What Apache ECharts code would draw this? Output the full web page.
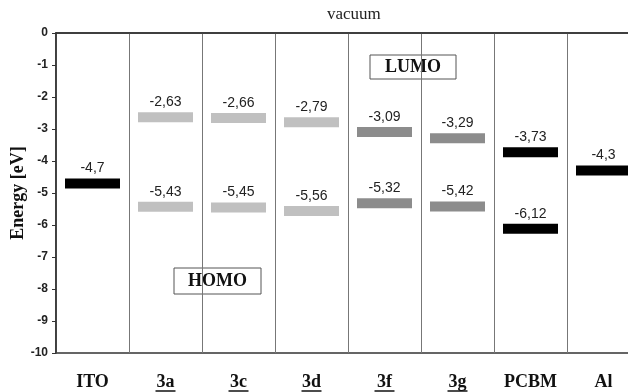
<!DOCTYPE html>
<html>
<head>
<meta charset="utf-8">
<script src="https://cdn.jsdelivr.net/npm/echarts@6/dist/echarts.min.js"></script>
<style>
  html, body { margin: 0; padding: 0; background: #fff; }
  #chart { width: 628px; height: 392px; }
</style>
</head>
<body>
<div id="chart"></div>
<script>
// Energy levels (eV) of electrodes, donor compounds and PCBM
const categories = ['ITO', '3a', '3c', '3d', '3f', '3g', 'PCBM', 'Al'];
const underlined = ['3a', '3c', '3d', '3f', '3g'];
const lumo = [null, -2.63, -2.66, -2.79, -3.09, -3.29, -3.73, null];
const homo = [null, -5.43, -5.45, -5.56, -5.32, -5.42, -6.12, null];
const workFunction = [-4.7, null, null, null, null, null, null, -4.3];
const levelColors = ['#000000', '#c0c0c0', '#c0c0c0', '#c0c0c0', '#8c8c8c', '#8c8c8c', '#000000', '#000000'];

const sans = '"Liberation Sans", Arial, sans-serif';
const serif = '"Liberation Serif", "Times New Roman", serif';

function levelSeries(name, values) {
  return {
    type: 'scatter',
    name: name,
    symbol: 'rect',
    symbolSize: [55, 10],
    z: 3,
    silent: true,
    data: values
      .map((v, i) => (v == null ? null : { value: [i, v], itemStyle: { color: levelColors[i], opacity: 1 } }))
      .filter(Boolean),
    label: {
      show: true,
      position: 'top',
      distance: 3,
      formatter: p => String(p.value[1]).replace('.', ','),
      color: '#222',
      fontSize: 14,
      fontFamily: sans
    }
  };
}

const chart = echarts.init(document.getElementById('chart'), null, { renderer: 'canvas' });

chart.setOption({
  animation: false,
  backgroundColor: '#ffffff',
  grid: {
    left: 56, top: 33, bottom: 39, right: -12,
    outerBoundsMode: 'none',
    containLabel: false,
    show: true, borderColor: '#333', borderWidth: 1.5, backgroundColor: 'transparent'
  },
  xAxis: {
    type: 'category',
    data: categories,
    boundaryGap: true,
    axisLine: { lineStyle: { color: '#333', width: 1.5 } },
    axisTick: { show: false },
    splitLine: { show: true, lineStyle: { color: '#777', width: 1 } },
    axisLabel: {
      margin: 21,
      interval: 0,
      formatter: v => underlined.includes(v) ? '{t|' + v + '}\n{u|\u00a0}' : '{t|' + v + '}',
      rich: {
        t: { fontFamily: serif, fontWeight: 'bold', fontSize: 18, color: '#111', lineHeight: 16 },
        u: { width: 20, height: 1.5, lineHeight: 2, backgroundColor: '#111', fontSize: 1 }
      }
    }
  },
  yAxis: {
    type: 'value',
    min: -10, max: 0, interval: 1,
    axisLine: { show: true, lineStyle: { color: '#333', width: 1.5 } },
    axisTick: { show: true, length: 4, lineStyle: { color: '#333' } },
    splitLine: { show: false },
    axisLabel: { margin: 8, fontFamily: sans, fontWeight: 'bold', fontSize: 12, color: '#222' }
  },
  series: [
    levelSeries('LUMO', lumo),
    levelSeries('HOMO', homo),
    levelSeries('Work function', workFunction)
  ],
  graphic: [
    // vertical axis title
    { type: 'text', x: 18, y: 193, rotation: Math.PI / 2,
      style: { text: 'Energy [eV]', font: 'bold 18px ' + serif, fill: '#111', align: 'center', verticalAlign: 'middle' } },
    { type: 'text', left: 356 - 29, top: 6,
      style: { text: 'vacuum', font: '17px ' + serif, fill: '#222' } },
    { type: 'rect', shape: { x: 370, y: 55, width: 86, height: 24 },
      style: { fill: 'none', stroke: '#555', lineWidth: 1 } },
    { type: 'text', x: 413, y: 67.5,
      style: { text: 'LUMO', font: 'bold 18px ' + serif, fill: '#111', align: 'center', verticalAlign: 'middle' } },
    { type: 'rect', shape: { x: 174, y: 268, width: 87, height: 26 },
      style: { fill: 'none', stroke: '#555', lineWidth: 1 } },
    { type: 'text', x: 217.5, y: 281.5,
      style: { text: 'HOMO', font: 'bold 18px ' + serif, fill: '#111', align: 'center', verticalAlign: 'middle' } }
  ]
});
</script>
</body>
</html>
